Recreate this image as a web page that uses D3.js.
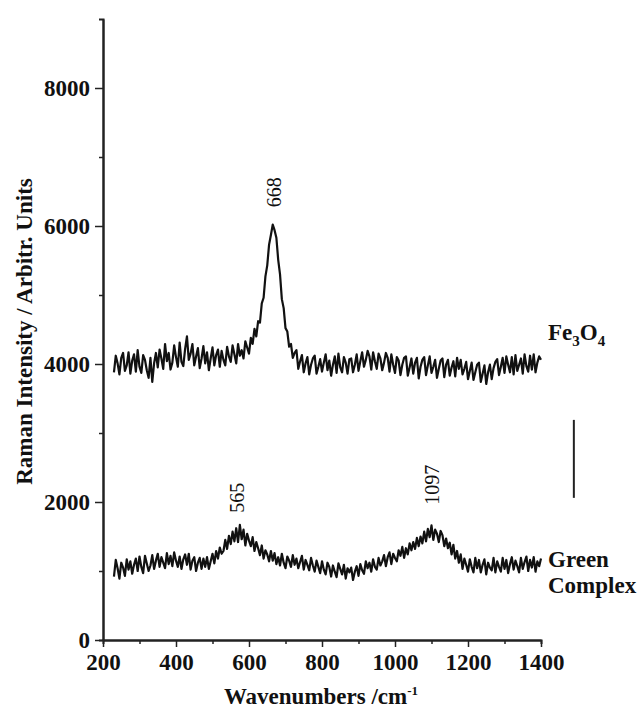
<!DOCTYPE html>
<html>
<head>
<meta charset="utf-8">
<script src="https://cdn.jsdelivr.net/npm/d3@7"></script>
<style>
  body { margin: 0; background: #fff; }
  text { font-family: "Liberation Serif", "Times New Roman", serif; fill: #111; }
</style>
</head>
<body>
<div class="chart"></div>
<script>
// sampling grid of both spectra, cm-1
const wavenumbers = d3.range(230, 1401, 5)

// Fe3O4 spectrum, one row = 50 cm-1
const fe3o4 = [
  3880,4120,4010,3850,4090,4160,3900,3980,4170,3860, // 230
  4050,4140,3890,4200,3960,3870,4130,4060,3910,3800, // 280
  4090,3740,4010,4160,3950,4210,4080,3930,4290,4040, // 330
  4160,3920,4020,4270,4100,3960,4310,4030,3970,4220, // 380
  4400,4060,4150,4290,3980,4110,4230,3940,4080,4260, // 430
  4010,4170,3910,4080,4240,3980,4130,4210,3960,4190, // 480
  4060,3980,4250,4110,4030,4270,4140,4010,4290,4120, // 530
  4200,4080,4330,4240,4150,4380,4290,4510,4400,4620, // 580
  4600,4880,4960,5270,5430,5730,5870,6020,5940,5830, // 630
  5510,5300,4940,4810,4520,4470,4250,4290,4090,4160, // 680
  4200,3930,4040,4130,3880,4010,4100,3850,3990,4080, // 730
  4120,3860,3960,4070,3890,4020,4140,3910,4050,3830, // 780
  3990,4110,3870,4150,3950,3880,4100,4020,3860,4070, // 830
  4080,3880,3990,4140,3900,4040,4170,3960,4060,4190, // 880
  4110,3920,4170,4040,3930,4150,4080,3910,4020,4160, // 930
  4090,3890,4140,3990,3870,4100,4050,3840,3990,4090, // 980
  4110,3830,3950,4080,3860,4020,4090,3790,3960,4060, // 1030
  4100,3840,3980,4110,3870,3960,4060,3800,3930,4050, // 1080
  4080,3810,3990,4060,3830,3950,4040,3820,4090,3930, // 1130
  4060,3850,3930,4030,3780,3900,4020,3770,3880,3990, // 1180
  4020,3740,3860,3980,3710,3880,3990,3780,3940,4030, // 1230
  4070,3840,3960,4090,3870,4110,3990,3880,4100,3850, // 1280
  4130,3900,3990,4080,3860,4140,3970,3890,4120,3920, // 1330
  4140,3880,4020,4110,4060                           // 1380
]

// Green Complex spectrum
const greenComplex = [
  920,1160,1040,890,1120,1050,930,1170,1020,1140,     // 230
  960,1090,1180,1000,1210,1060,970,1220,1110,1000,    // 280
  1080,1230,1030,1150,1250,1060,1200,1120,1040,1260,  // 330
  1100,1220,1070,1270,1150,1060,1210,1030,1170,1240,  // 380
  1090,1250,1020,1150,1200,1000,1120,1190,1030,1180,  // 430
  1060,1200,1030,1140,1250,1110,1290,1180,1340,1250,  // 480
  1290,1450,1320,1510,1390,1570,1430,1620,1420,1670,  // 530
  1460,1600,1370,1540,1440,1360,1490,1290,1420,1330,  // 580
  1230,1370,1180,1300,1240,1140,1290,1150,1260,1100,  // 630
  1200,1080,1250,1120,1040,1210,1150,1060,1230,1090,  // 680
  1180,1040,1130,1220,1020,1160,1090,1010,1190,1080,  // 730
  990,1150,1060,970,1140,1020,950,1120,1060,920,      // 780
  1080,990,910,1110,1030,950,1090,890,1040,980,       // 830
  1050,870,990,1070,930,1100,1010,960,1140,1040,      // 880
  1120,990,1170,1060,1020,1190,1080,1140,1230,1070,   // 930
  1200,1270,1100,1250,1190,1140,1300,1220,1350,1190,  // 980
  1330,1240,1400,1300,1420,1320,1480,1360,1500,1400,  // 1030
  1570,1430,1610,1490,1660,1450,1600,1540,1420,1580,  // 1080
  1520,1360,1470,1330,1410,1240,1380,1180,1290,1120,  // 1130
  1240,1030,1180,1090,990,1170,1060,980,1190,1040,    // 1180
  1160,980,1090,1170,950,1120,1050,1010,1190,980,     // 1230
  1140,1060,990,1190,1030,1160,970,1100,1200,1020,    // 1280
  1150,1070,980,1190,1030,1130,1210,1000,1160,1050,   // 1330
  1200,990,1140,1070,1180                             // 1380
]

const xTicks = [200, 400, 600, 800, 1000, 1200, 1400]
const yTicks = [0, 2000, 4000, 6000, 8000]

const peakLabels = [
  {text: "668", wn: 668, y: 6490},
  {text: "565", wn: 567, y: 2060},
  {text: "1097", wn: 1101, y: 2250}
]
const scaleBar = {wn: 1490, from: 2060, to: 3190}

const margin = {top: 19, right: 99, bottom: 68, left: 103}
const width = 640 - margin.left - margin.right
const height = 708 - margin.top - margin.bottom
const serif = "'Liberation Serif', 'Times New Roman', serif"

const svg = d3.select(".chart").append("svg").attr("width", 640).attr("height", 708)
  .append("g").attr("transform", `translate(${margin.left},${margin.top})`)

const x = d3.scaleLinear().domain([200, 1400]).range([0, width])
const y = d3.scaleLinear().domain([0, 9000]).range([height, 0])

// minor ticks first
svg.append("g").attr("transform", `translate(0,${height})`)
  .call(d3.axisBottom(x).tickValues(d3.range(300, 1400, 200)).tickSize(4).tickFormat(""))
svg.append("g")
  .call(d3.axisLeft(y).tickValues(d3.range(1000, 9000, 2000)).tickSize(4).tickFormat(""))

svg.append("g").attr("transform", `translate(0,${height})`)
  .call(d3.axisBottom(x).tickValues(xTicks).tickSize(7).tickSizeOuter(0).tickPadding(7)
    .tickFormat(d3.format("d")))
svg.append("g")
  .call(d3.axisLeft(y).tickValues(yTicks).tickSize(8).tickSizeOuter(0).tickPadding(5)
    .tickFormat(d3.format("d")))

svg.selectAll("g").attr("font-family", serif)
svg.selectAll(".domain").attr("stroke", "#222").attr("stroke-width", 2)
svg.selectAll(".tick line").attr("stroke", "#222").attr("stroke-width", 1.5)
svg.selectAll(".tick text").style("font-family", serif).style("font-weight", "bold")
  .style("font-size", "23px").attr("fill", "#111")

const line = d3.line().x(d => x(d[0])).y(d => y(d[1]))

const series = [fe3o4, greenComplex]
series.forEach(vals => {
  svg.append("path").datum(wavenumbers.map((w, i) => [w, vals[i]]))
    .attr("fill", "none").attr("stroke", "#111").attr("stroke-width", 2.2)
    .attr("stroke-linejoin", "round").attr("d", line)
})

svg.selectAll(".peak").data(peakLabels).enter().append("text")
  .attr("transform", d => `translate(${x(d.wn)},${y(d.y)}) rotate(-90)`)
  .attr("text-anchor", "middle").attr("dominant-baseline", "central")
  .style("font-family", serif).style("font-size", "20px").text(d => d.text)

svg.append("line")
  .attr("x1", x(scaleBar.wn)).attr("x2", x(scaleBar.wn))
  .attr("y1", y(scaleBar.from)).attr("y2", y(scaleBar.to))
  .attr("stroke", "#222").attr("stroke-width", 2)

// series names
const fe = svg.append("text").attr("x", width + 7).attr("y", 321)
  .style("font-family", serif).style("font-size", "23px").style("font-weight", "bold")
fe.append("tspan").text("Fe")
fe.append("tspan").attr("dy", 6).style("font-size", "15px").text("3")
fe.append("tspan").attr("dy", -6).text("O")
fe.append("tspan").attr("dy", 6).style("font-size", "15px").text("4")

svg.append("text").attr("x", width + 7).attr("y", 548)
  .style("font-family", serif).style("font-size", "23px").style("font-weight", "bold").text("Green")
svg.append("text").attr("x", width + 7).attr("y", 574)
  .style("font-family", serif).style("font-size", "23px").style("font-weight", "bold").text("Complex")

// axis titles
svg.append("text").attr("transform", `translate(${-71},${height / 2 + 2}) rotate(-90)`)
  .attr("text-anchor", "middle").style("font-family", serif)
  .style("font-size", "23px").style("font-weight", "bold")
  .text("Raman Intensity / Arbitr. Units")

const xt = svg.append("text").attr("x", width / 2 - 1).attr("y", height + 64)
  .attr("text-anchor", "middle").style("font-family", serif)
  .style("font-size", "23px").style("font-weight", "bold")
xt.append("tspan").text("Wavenumbers /cm")
xt.append("tspan").attr("dy", -9).style("font-size", "13px").text("-1")
</script>
</body>
</html>
